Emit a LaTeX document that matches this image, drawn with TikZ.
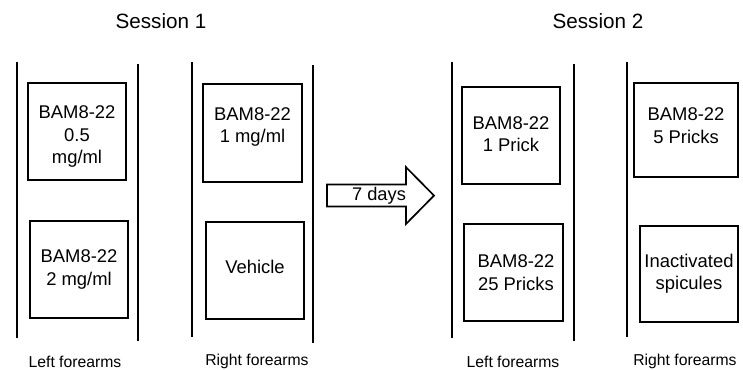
\documentclass[tikz,border=0pt]{standalone}
\usepackage{fontspec}
\setmainfont{Liberation Sans}
\usetikzlibrary{calc}

\begin{document}
\begin{tikzpicture}[line width=1.3pt,
    box/.style={draw, line width=1.2pt, inner sep=0pt,
                minimum width=2.45cm, minimum height=2.425cm},
    boxtext/.style={inner sep=0pt, align=center, font=\fontsize{13.1}{15.9}\selectfont},
    arm/.style={font=\fontsize{11.2}{13}\selectfont},
    title/.style={font=\fontsize{14.7}{17}\selectfont}]
    \useasboundingbox (0,0) rectangle (18.575,9.25);

    % 标题
    \node[title] (s1) at (4.025, 8.7125) {Session 1};
    \node[title] (s2) at (14.95, 8.7125) {Session 2};

    % 前臂竖线 (使用 foreach 批量生成)
    \foreach \x/\t/\b in {0.425/7.7/0.8, 3.45/7.65/0.725, 4.8/7.7/0.825, 7.825/7.625/0.675,
                          11.3/7.7/0.8, 14.35/7.65/0.725, 15.675/7.7/0.825} {
        \draw (\x,\t) -- (\x,\b);
    }

    % 第一次: 左右前臂
    \node[box] (l1a) at (1.925, 5.9625) {};
    \node[boxtext] (l1a-t) at (1.925, 5.8375) {BAM8-22\\0.5\\mg/ml};
    \node[box] (l1b) at (1.975, 2.5125) {};
    \node[boxtext] (l1b-t) at (l1b) {BAM8-22\\2 mg/ml};
    \node[box, minimum width=2.475cm, minimum height=2.45cm] (r1a) at (6.3125, 5.925) {};
    \node[boxtext] (r1a-t) at (6.3125, 6.075) {BAM8-22\\1 mg/ml};
    \node[box] (r1b) at (6.375, 2.4875) {};
    \node[boxtext] (r1b-t) at (6.375, 2.5825) {Vehicle};

    % 间隔箭头
    \draw[line width=1.2pt] (8.175,4.635) -- (10.15,4.635) -- (10.15,5.07) -- (10.85,4.36)
        -- (10.15,3.65) -- (10.15,4.085) -- (8.175,4.085) -- cycle;
    \node[font=\fontsize{13}{15}\selectfont] (gap) at (9.475, 4.35) {7 days};

    % 第二次: 左右前臂
    \node[box] (l2a) at (12.775, 5.8625) {};
    \node[boxtext] (l2a-t) at (12.775, 5.9025) {BAM8-22\\1 Prick};
    \node[box, minimum width=2.475cm] (l2b) at (12.8375, 2.4375) {};
    \node[boxtext] (l2b-t) at (12.9, 2.4375) {BAM8-22\\25 Pricks};
    \node[box, minimum width=2.6cm, minimum height=2.35cm] (r2a) at (17.15, 6.0) {};
    \node[boxtext] (r2a-t) at (17.15, 6.1125) {BAM8-22\\5 Pricks};
    \node[box, minimum height=2.4cm] (r2b) at (17.225, 2.4) {};
    \node[boxtext] (r2b-t) at (r2b) {Inactivated\\spicules};

    % 底部标注
    \node[arm] (left1)  at (1.875, 0.2125)  {Left forearms};
    \node[arm] (right1) at (6.425, 0.2125)  {Right forearms};
    \node[arm] (left2)  at (12.825, 0.2125) {Left forearms};
    \node[arm] (right2) at (17.125, 0.2125) {Right forearms};
\end{tikzpicture}
\end{document}
